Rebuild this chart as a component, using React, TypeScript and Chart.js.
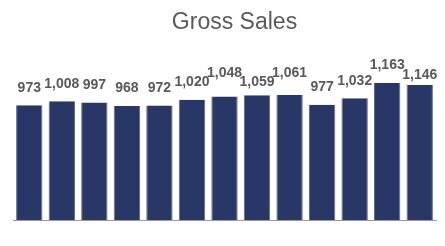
import React, { useEffect, useRef } from 'react';
import { Chart, registerables } from 'chart.js';

Chart.register(...registerables);

const categories = ['P1', 'P2', 'P3', 'P4', 'P5', 'P6', 'P7', 'P8', 'P9', 'P10', 'P11', 'P12', 'P13'];
const grossSales = [973, 1008, 997, 968, 972, 1020, 1048, 1059, 1061, 977, 1032, 1163, 1146];
const yMin = 0;
const yMax = 1400;
const chartTitle = 'Gross Sales';

const FONT = '"Liberation Sans", Arial, Helvetica, sans-serif';

const titlePlugin = {
  id: 'customTitle',
  afterDraw(chart: any) {
    const ctx = chart.ctx;
    ctx.save();
    ctx.font = `23px ${FONT}`;
    ctx.fillStyle = '#595959';
    ctx.textAlign = 'center';
    ctx.textBaseline = 'alphabetic';
    const cx = (chart.chartArea.left + chart.chartArea.right) / 2 + 10;
    ctx.fillText(chartTitle, cx, 28.5);
    ctx.restore();
  },
};

const labelPlugin = {
  id: 'barLabels',
  afterDatasetsDraw(chart: any) {
    const ctx = chart.ctx;
    const meta = chart.getDatasetMeta(0);
    ctx.save();
    ctx.font = `bold 14px ${FONT}`;
    ctx.fillStyle = '#595959';
    ctx.textAlign = 'center';
    ctx.textBaseline = 'alphabetic';
    const H = 9.5;
    let prev: { y: number; right: number } | null = null;
    meta.data.forEach((bar: any, i: number) => {
      const text = grossSales[i].toLocaleString('en-US');
      const w = ctx.measureText(text).width;
      let y = bar.y - 13.5;
      const left = bar.x - w / 2;
      const right = bar.x + w / 2;
      if (prev && left < prev.right - 1 && Math.abs(y - prev.y) < H) {
        y = y <= prev.y ? prev.y - H : prev.y + H;
      }
      ctx.fillText(text, bar.x, y);
      prev = { y, right };
    });
    ctx.restore();
  },
};

export default function App() {
  const canvasRef = useRef<HTMLCanvasElement | null>(null);

  useEffect(() => {
    if (!canvasRef.current) return;
    Chart.defaults.font.family = FONT;
    const chart = new Chart(canvasRef.current, {
      type: 'bar',
      data: {
        labels: categories,
        datasets: [
          {
            label: chartTitle,
            data: grossSales,
            backgroundColor: '#283765',
            borderColor: '#5d6891',
            borderWidth: { left: 1, right: 1, top: 0, bottom: 0 },
            categoryPercentage: 1,
            barPercentage: 0.81,
          },
        ],
      },
      options: {
        animation: false,
        responsive: true,
        maintainAspectRatio: false,
        layout: { padding: { top: 55, left: 13, right: 9, bottom: 26 } },
        plugins: {
          legend: { display: false },
          title: { display: false },
          tooltip: { enabled: false },
        },
        scales: {
          x: {
            grid: { display: false, drawTicks: false },
            ticks: { display: false },
            border: { display: true, color: '#9a9a9a', width: 1 },
          },
          y: {
            display: false,
            min: yMin,
            max: yMax,
          },
        },
      },
      plugins: [titlePlugin, labelPlugin],
    });
    return () => chart.destroy();
  }, []);

  return (
    <div style={{ position: 'fixed', left: 0, top: 0, width: 445, height: 246, background: '#fff' }}>
      <canvas ref={canvasRef} />
    </div>
  );
}
